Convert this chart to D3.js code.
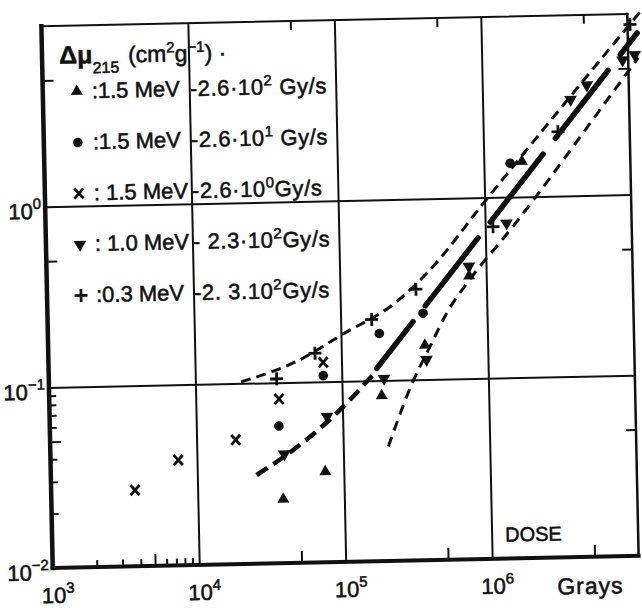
<!DOCTYPE html>
<html>
<head>
<meta charset="utf-8">
<script src="https://cdn.jsdelivr.net/npm/d3@7"></script>
<style>
  html, body { margin: 0; padding: 0; background: #fff; }
  svg { display: block; }
  text { font-family: "Liberation Sans", Arial, sans-serif; fill: #111; stroke: #111; stroke-width: 0.55px; }
</style>
</head>
<body>
<svg id="chart" width="642" height="608"></svg>
<script>
// ---------------- data ----------------
const xDecades = [1e3, 1e4, 1e5, 1e6];
const xDecadeExp = ["3", "4", "5", "6"];
const yDecades = [1e-2, 1e-1, 1e0];
const yDecadeExp = ["\u22122", "\u22121", "0"];
const xGrid = [1e4, 1e5, 1e6];
const yGrid = [1e-1, 1e0];
const xMinorTicks = [2e3, 3e3, 4e3, 6e3, 7e3, 8e3, 9e3];
const xMajorHalfTicks = [5e3, 5e4, 5e5, 5e6];
const xTopTicks = [5e4, 5e5, 5e6];
const yMinorTicks = [0.02, 0.03, 0.04, 0.06, 0.07, 0.08, 0.09];
const yHalfTicks = [0.05, 0.5, 5];

// series: [dose (Gy), delta mu (cm2/g)]
const triUp = [[3.83e4, 0.0226], [7.48e4, 0.0318], [1.86e5, 0.0824], [3.73e5, 0.155], [7.64e5, 0.370], [1.82e6, 1.57]];
const dots = [[3.66e4, 0.0575], [7.48e4, 0.108], [1.83e5, 0.182], [3.66e5, 0.233], [1.51e6, 1.54]];
const crosses = [[3.74e3, 0.0264], [7.45e3, 0.0383], [1.85e4, 0.0488], [3.70e4, 0.0812], [7.5e4, 0.128]];
const triDown = [[3.95e4, 0.0402], [7.83e4, 0.0641], [1.94e5, 0.1025], [3.81e5, 0.129], [7.64e5, 0.418], [1.40e6, 0.717], [3.99e6, 3.41], [5.17e6, 4.08], [9.14e6, 5.56], [1.11e7, 5.92]];
const pluses = [[3.59e4, 0.105], [6.61e4, 0.144], [1.63e5, 0.218], [3.30e5, 0.317], [1.13e6, 0.689], [3.24e6, 2.27], [1.04e7, 8.74]];

// curves
const upperDashed = [[2.05e4, 0.102], [5.2e4, 0.133], [1e5, 0.18], [2.43e5, 0.272], [4.14e5, 0.404], [1e6, 0.95], [3.65e6, 3.27], [1.22e7, 10.2]];
const lowerLeftDashed = [[2.54e4, 0.031], [5.07e4, 0.045], [9.89e4, 0.071], [1.48e5, 0.099], [1.64e5, 0.108]];
const solidFit = [[1.74e5, 0.117], [1.16e7, 7.82]];
const steepDashed = [[2.03e5, 0.043], [3.05e5, 0.0977], [4.04e5, 0.152], [5.46e5, 0.241], [7.38e5, 0.338], [1.48e6, 0.658], [9.77e6, 4.71], [1.17e7, 5.69]];

const legendRows = [
  {sym: "triUp",   energy: ":1.5 MeV",  rate: "-2.6\u00b710", rexp: "2", unit: " Gy/s"},
  {sym: "dot",     energy: ":1.5 MeV",  rate: "-2.6\u00b710", rexp: "1", unit: " Gy/s"},
  {sym: "cross",   energy: ": 1.5 MeV", rate: "-2.6\u00b710", rexp: "0", unit: "Gy/s"},
  {sym: "triDown", energy: ": 1.0 MeV", rate: "- 2.3\u00b710", rexp: "2", unit: "Gy/s"},
  {sym: "plus",    energy: ":0.3 MeV",  rate: "-2. 3.10", rexp: "2", unit: "Gy/s"}
];

// ---------------- drawing ----------------
const svg = d3.select("#chart");
svg.append("rect").attr("width", 642).attr("height", 608).attr("fill", "#fff");
const g = svg.append("g").attr("transform", "rotate(-1.2,340,291)");

const L = 47, R = 633, T = 20, B = 562;
const x = d3.scaleLog().domain([1e3, 1e7]).range([L, R]);
const y = d3.scaleLog().domain([1e-2, 1e1]).range([B, T]);
const ink = "#111";

function styleAxis(sel, w) {
  sel.select(".domain").remove();
  sel.attr("color", ink);
  sel.selectAll("line").attr("stroke-width", w);
}

// grid lines
g.append("g").attr("transform", `translate(0,${B})`)
  .call(d3.axisBottom(x).tickValues(xGrid).tickSize(-(B - T)).tickFormat(""))
  .call(s => styleAxis(s, 2));
g.append("g").attr("transform", `translate(${L},0)`)
  .call(d3.axisLeft(y).tickValues(yGrid).tickSize(-(R - L)).tickFormat(""))
  .call(s => styleAxis(s, 2));

// ticks
g.append("g").attr("transform", `translate(0,${B})`)
  .call(d3.axisBottom(x).tickValues(xMinorTicks).tickSize(-7).tickFormat(""))
  .call(s => styleAxis(s, 2));
g.append("g").attr("transform", `translate(0,${B})`)
  .call(d3.axisBottom(x).tickValues(xMajorHalfTicks).tickSize(-12).tickFormat(""))
  .call(s => styleAxis(s, 2));
g.append("g").attr("transform", `translate(0,${T})`)
  .call(d3.axisTop(x).tickValues(xTopTicks).tickSize(-9).tickFormat(""))
  .call(s => styleAxis(s, 2));
g.append("g").attr("transform", `translate(${L},0)`)
  .call(d3.axisLeft(y).tickValues(yMinorTicks).tickSize(-7).tickFormat(""))
  .call(s => styleAxis(s, 2));
g.append("g").attr("transform", `translate(${L},0)`)
  .call(d3.axisLeft(y).tickValues(yHalfTicks).tickSize(-11).tickFormat(""))
  .call(s => styleAxis(s, 2));
g.append("g").attr("transform", `translate(${R},0)`)
  .call(d3.axisRight(y).tickValues(yHalfTicks).tickSize(-10).tickFormat(""))
  .call(s => styleAxis(s, 2));

// frame
const frame = g.append("g").attr("stroke", ink).attr("stroke-linecap", "square");
frame.append("line").attr("x1", L).attr("x2", L).attr("y1", T).attr("y2", B).attr("stroke-width", 4.5);
frame.append("line").attr("x1", L).attr("x2", R).attr("y1", B).attr("y2", B).attr("stroke-width", 4);
frame.append("line").attr("x1", L).attr("x2", R).attr("y1", T).attr("y2", T).attr("stroke-width", 2);
frame.append("line").attr("x1", R).attr("x2", R).attr("y1", T).attr("y2", B).attr("stroke-width", 2.5);

// tick labels
const xl = g.append("g").selectAll("text").data(xDecades).join("text")
  .attr("x", d => x(d) + 5).attr("y", B + 35)
  .attr("text-anchor", "middle").attr("font-size", 22);
xl.append("tspan").text("10");
xl.append("tspan").attr("dy", -10).attr("font-size", 15).text((d, i) => xDecadeExp[i]);

const yl = g.append("g").selectAll("text").data(yDecades).join("text")
  .attr("x", L - 4).attr("y", d => y(d) + 12)
  .attr("text-anchor", "end").attr("font-size", 22);
yl.append("tspan").text("10");
yl.append("tspan").attr("dy", -10).attr("font-size", 15).text((d, i) => yDecadeExp[i]);

g.append("text").attr("x", 551).attr("y", 599).attr("font-size", 23).attr("letter-spacing", 1).text("Grays");
g.append("text").attr("x", 500).attr("y", 545).attr("font-size", 20).text("DOSE");

// curves
const line = d3.line().x(d => x(d[0])).y(d => y(d[1])).curve(d3.curveMonotoneX);
g.append("path").datum(upperDashed).attr("d", line)
  .attr("fill", "none").attr("stroke", ink).attr("stroke-width", 3).attr("stroke-dasharray", "10,6");
g.append("path").datum(lowerLeftDashed).attr("d", line)
  .attr("fill", "none").attr("stroke", ink).attr("stroke-width", 4.5).attr("stroke-dasharray", "13,7");
g.append("path").datum(solidFit).attr("d", line)
  .attr("fill", "none").attr("stroke", ink).attr("stroke-width", 5.5)
  .attr("stroke-dasharray", "86,20").attr("stroke-dashoffset", 27).attr("stroke-linecap", "round");
g.append("path").datum(steepDashed).attr("d", line)
  .attr("fill", "none").attr("stroke", ink).attr("stroke-width", 3).attr("stroke-dasharray", "10,7");

// markers
const symTri = d3.symbol().type(d3.symbolTriangle);
function drawMarker(sel, type) {
  if (type === "triUp") {
    sel.append("path").attr("d", symTri.size(62)()).attr("fill", ink);
  } else if (type === "triDown") {
    sel.append("path").attr("d", symTri.size(70)()).attr("transform", "rotate(180)").attr("fill", ink);
  } else if (type === "dot") {
    sel.append("circle").attr("r", 4.8).attr("fill", ink);
  } else if (type === "cross") {
    sel.append("path").attr("d", "M-4.5,-5L4.5,5M4.5,-5L-4.5,5")
      .attr("stroke", ink).attr("stroke-width", 2.8).attr("fill", "none");
  } else if (type === "plus") {
    sel.append("path").attr("d", "M-6.5,0L6.5,0M0,-6.5L0,6.5")
      .attr("stroke", ink).attr("stroke-width", 2.8).attr("fill", "none");
  }
}
const seriesList = [
  {data: triUp, type: "triUp"},
  {data: dots, type: "dot"},
  {data: crosses, type: "cross"},
  {data: triDown, type: "triDown"},
  {data: pluses, type: "plus"}
];
seriesList.forEach(s => {
  g.append("g").selectAll("g").data(s.data).join("g")
    .attr("transform", d => `translate(${x(d[0])},${y(d[1])})`)
    .each(function () { drawMarker(d3.select(this), s.type); });
});

// legend / title
const title = g.append("text").attr("x", 64).attr("y", 58).attr("font-size", 23);
title.append("tspan").attr("font-weight", "bold").attr("font-size", 25).text("\u0394\u03bc");
title.append("tspan").attr("font-size", 16).attr("dy", 10).text("215");
title.append("tspan").attr("dy", -10).attr("dx", 9).text("(cm");
title.append("tspan").attr("font-size", 15).attr("dy", -9).text("2");
title.append("tspan").attr("dy", 9).text("g");
title.append("tspan").attr("font-size", 15).attr("dy", -9).text("\u22121");
title.append("tspan").attr("dy", 9).text(") \u00b7");

const rowY0 = 93, rowStep = 51;
legendRows.forEach((r, i) => {
  const yy = rowY0 + i * rowStep;
  const mk = g.append("g").attr("transform", `translate(81,${yy - 7})`);
  drawMarker(mk, r.sym);
  g.append("text").attr("x", 96).attr("y", yy).attr("font-size", 22).text(r.energy);
  const t = g.append("text").attr("x", 194).attr("y", yy).attr("font-size", 22).attr("letter-spacing", 0.6);
  t.append("tspan").text(r.rate);
  t.append("tspan").attr("font-size", 15).attr("dy", -9).text(r.rexp);
  t.append("tspan").attr("dy", 9).text(r.unit);
});
</script>
</body>
</html>
